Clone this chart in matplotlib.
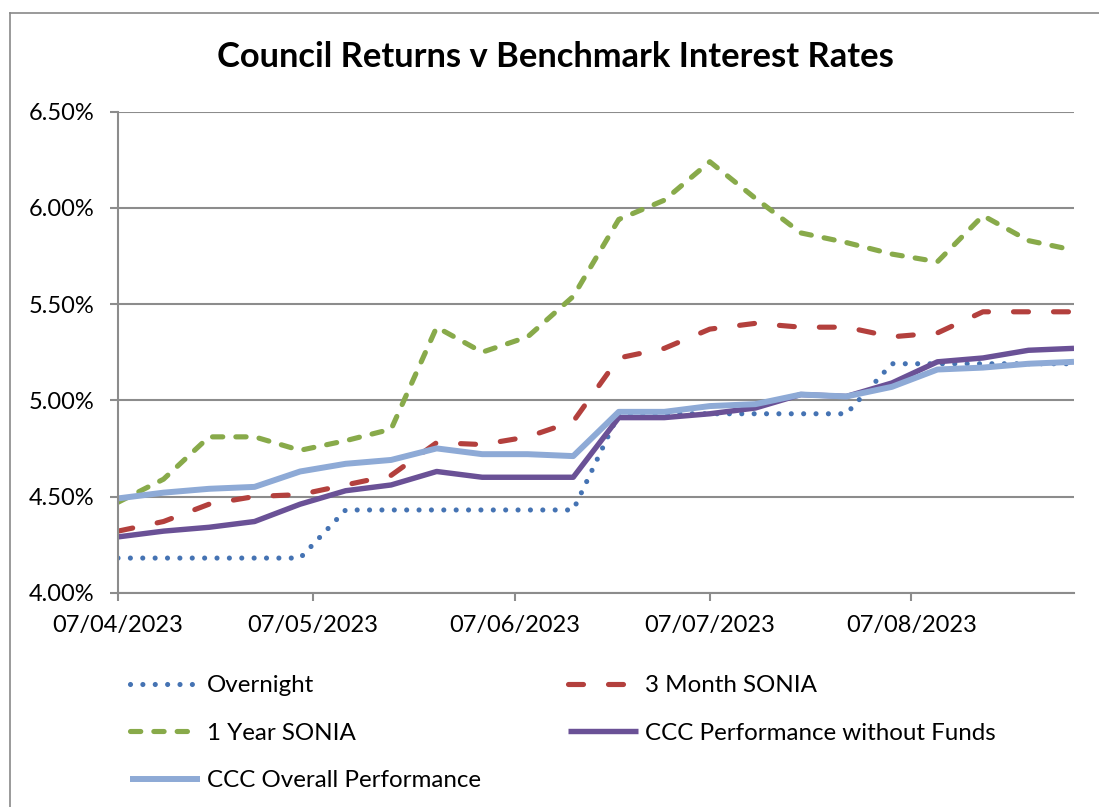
import matplotlib
matplotlib.use("Agg")
import matplotlib.pyplot as plt
import matplotlib.dates as mdates
from matplotlib.lines import Line2D
from matplotlib.ticker import FuncFormatter, MultipleLocator
import pandas as pd

plt.rcParams['font.family'] = ['Lato', 'DejaVu Sans']
plt.rcParams['lines.scale_dashes'] = False

dates = ["2023-04-07", "2023-04-14", "2023-04-21", "2023-04-28", "2023-05-05",
         "2023-05-12", "2023-05-19", "2023-05-26", "2023-06-02", "2023-06-09",
         "2023-06-16", "2023-06-23", "2023-06-30", "2023-07-07", "2023-07-14",
         "2023-07-21", "2023-07-28", "2023-08-04", "2023-08-11", "2023-08-18",
         "2023-08-25", "2023-09-01"]

overnight = [4.18, 4.18, 4.18, 4.18, 4.18, 4.43, 4.43, 4.43, 4.43, 4.43, 4.43,
             4.93, 4.93, 4.93, 4.93, 4.93, 4.93, 5.19, 5.19, 5.19, 5.19, 5.19]
sonia_3m = [4.32, 4.37, 4.46, 4.50, 4.51, 4.56, 4.61, 4.78, 4.77, 4.81, 4.89,
            5.22, 5.27, 5.37, 5.40, 5.38, 5.38, 5.33, 5.35, 5.46, 5.46, 5.46]
sonia_1y = [4.47, 4.59, 4.81, 4.81, 4.74, 4.79, 4.85, 5.38, 5.25, 5.33, 5.54,
            5.94, 6.04, 6.24, 6.05, 5.87, 5.82, 5.76, 5.72, 5.96, 5.83, 5.78]
ccc_no_funds = [4.29, 4.32, 4.34, 4.37, 4.46, 4.53, 4.56, 4.63, 4.60, 4.60, 4.60,
                4.91, 4.91, 4.93, 4.96, 5.03, 5.02, 5.09, 5.20, 5.22, 5.26, 5.27]
ccc_overall = [4.49, 4.52, 4.54, 4.55, 4.63, 4.67, 4.69, 4.75, 4.72, 4.72, 4.71,
               4.94, 4.94, 4.97, 4.98, 5.03, 5.02, 5.07, 5.16, 5.17, 5.19, 5.20]

labels = ["Overnight", "3 Month SONIA", "1 Year SONIA",
          "CCC Performance without Funds", "CCC Overall Performance"]
title = "Council Returns v Benchmark Interest Rates"
x_tick_dates = ["2023-04-07", "2023-05-07", "2023-06-07", "2023-07-07", "2023-08-07"]

x = pd.to_datetime(dates)

W, H = 1099, 807
fig = plt.figure(figsize=(W / 100, H / 100), dpi=100)
ax = fig.add_axes([118 / W, 1 - 592.7 / H, (1074 - 118) / W, (592.7 - 111.7) / H])

grey = "#8C8C8C"
l1, = ax.plot(x, overnight, color="#4573B3", lw=3.7, dashes=(0.01, 8.9),
              dash_capstyle='round', label=labels[0])
l2, = ax.plot(x, sonia_3m, color="#B3403D", lw=3.7, dashes=(10.8, 18.0),
              dash_capstyle='round', label=labels[1])
l3, = ax.plot(x, sonia_1y, color="#88AA4A", lw=3.7, dashes=(7.4, 9.4),
              dash_capstyle='round', label=labels[2])
l4, = ax.plot(x, ccc_no_funds, color="#6A5196", lw=3.9, solid_capstyle='butt',
              label=labels[3])
l5, = ax.plot(x, ccc_overall, color="#8EAAD6", lw=4.3, solid_capstyle='butt',
              label=labels[4])

ax.set_xlim(x[0], x[-1])
ax.set_ylim(4.0, 6.5)
ax.yaxis.set_major_locator(MultipleLocator(0.5))
ax.yaxis.set_major_formatter(FuncFormatter(lambda v, p: f"{v:.2f}%"))
ax.set_xticks(pd.to_datetime(x_tick_dates))
ax.xaxis.set_major_formatter(mdates.DateFormatter("%d/%m/%Y"))

ax.grid(axis='y', color=grey, lw=1.5)
ax.set_axisbelow(True)
for s in ['top', 'right']:
    ax.spines[s].set_visible(False)
for s in ['left', 'bottom']:
    ax.spines[s].set_color(grey)
    ax.spines[s].set_linewidth(1.5)
ax.tick_params(axis='both', direction='out', length=6, width=1.5, color=grey,
               labelsize=17, labelcolor='black')
ax.tick_params(axis='y', pad=11)
ax.tick_params(axis='x', pad=10)

fig.text(555.5 / W, 1 - 57 / H, title, ha='center', va='center',
         fontsize=24.8, fontweight='bold')

# outer chart border (left and top visible)
fig.add_artist(Line2D([10 / W, 10 / W], [0, 1 - 12.5 / H], color="#898989", lw=1.2,
                      transform=fig.transFigure))
fig.add_artist(Line2D([10 / W, 1], [1 - 12.5 / H, 1 - 12.5 / H], color="#898989", lw=1.2,
                      transform=fig.transFigure))

leg_kw = dict(frameon=False, fontsize=17.4, handlelength=2.9, handletextpad=0.3,
              labelspacing=1.1, borderpad=0, borderaxespad=0, loc='upper left')
leg1 = fig.legend([l1, l3, l5], [labels[0], labels[2], labels[4]],
                  bbox_to_anchor=(130 / W, 1 - 675 / H), **leg_kw)
leg2 = fig.legend([l2, l4], [labels[1], labels[3]],
                  bbox_to_anchor=(568 / W, 1 - 675 / H), **leg_kw)

fig.savefig("out.png", dpi=100)
